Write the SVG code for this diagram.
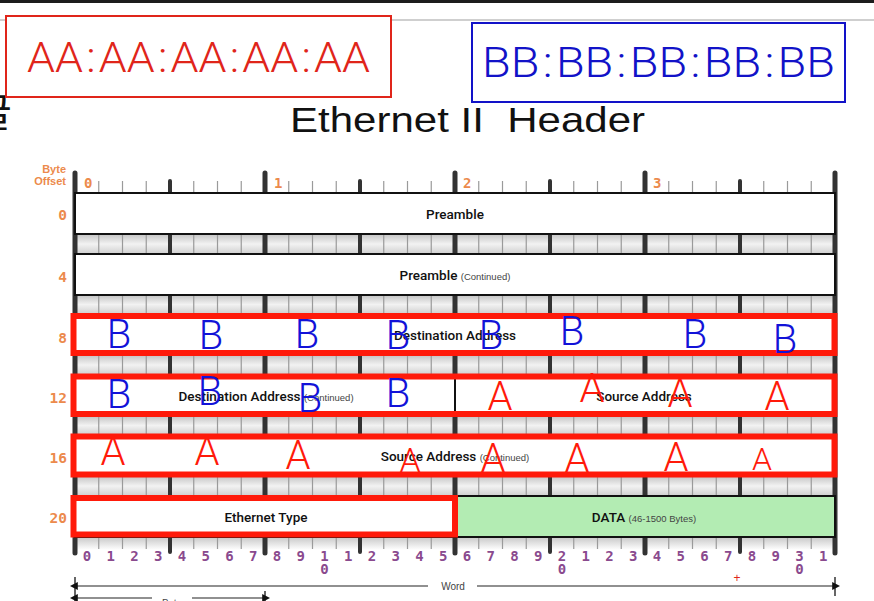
<svg xmlns="http://www.w3.org/2000/svg" width="874" height="601" viewBox="0 0 874 601">
<defs>
<linearGradient id="gap" x1="0" y1="0" x2="0" y2="1">
<stop offset="0" stop-color="#c4c4c4"/>
<stop offset="0.5" stop-color="#f2f2f2"/>
<stop offset="1" stop-color="#cfcfcf"/>
</linearGradient>
<linearGradient id="gapEnd" x1="0" y1="0" x2="0" y2="1">
<stop offset="0" stop-color="#c8c8c8"/>
<stop offset="1" stop-color="#ffffff"/>
</linearGradient>
<marker id="arrL" viewBox="0 0 10 10" refX="1" refY="5" markerWidth="8" markerHeight="8" orient="auto-start-reverse" markerUnits="userSpaceOnUse">
<path d="M0,0 L10,5 L0,10 z" fill="#111"/>
</marker>
<style>
.lbl{font-family:"Liberation Sans",Arial,sans-serif;}
.row{fill:#fff;stroke:#111;stroke-width:2;}
.rt{font-family:Roboto,"Liberation Sans",sans-serif;font-weight:500;font-size:13.5px;fill:#111;text-anchor:middle;}
.sm{font-family:"Liberation Sans",sans-serif;font-weight:400;font-size:9.5px;fill:#444;}
.off{font-family:"DejaVu Sans Mono","Liberation Mono",monospace;font-size:14.5px;font-weight:600;fill:#ec8a4c;text-anchor:end;}
.byn{font-family:"DejaVu Sans Mono","Liberation Mono",monospace;font-size:14px;font-weight:600;fill:#ec8a4c;}
.bit{font-family:"DejaVu Sans Mono","Liberation Mono",monospace;font-size:14px;font-weight:600;fill:#8a4a8e;text-anchor:middle;}
.thin{stroke:#9a9a9a;stroke-width:1.2;fill:none;}
.nib{stroke:#333;stroke-width:4;stroke-linecap:round;fill:none;}
.byt{stroke:#333;stroke-width:5;stroke-linecap:round;fill:none;}
.redov{fill:none;stroke:#ff1a0a;stroke-width:6;}
.B{font-family:Roboto,"Liberation Sans",sans-serif;font-weight:300;font-size:40px;fill:#1212d8;text-anchor:middle;}
.A{font-family:Roboto,"Liberation Sans",sans-serif;font-weight:300;font-size:40px;fill:#ff1a0a;text-anchor:middle;}
</style>
</defs>
<rect width="874" height="601" fill="#fff"/>
<rect x="0" y="0" width="874" height="3" fill="#1c1c1c"/>
<line x1="0" y1="20" x2="874" y2="20" stroke="#cfcfcf" stroke-width="2"/>

<text x="-25" y="127" font-family="'Noto Sans CJK KR',sans-serif" font-size="40" fill="#111">글</text>

<g id="macA">
<rect x="6" y="16" width="385" height="81" fill="#fff" stroke="#e0251a" stroke-width="2"/>
<text x="27" y="72" font-size="42" fill="#e0251a" textLength="343" lengthAdjust="spacingAndGlyphs" font-family="Roboto,'Liberation Sans',sans-serif" font-weight="300"><tspan>AA</tspan><tspan dx="3">:</tspan><tspan dx="3">AA</tspan><tspan dx="3">:</tspan><tspan dx="3">AA</tspan><tspan dx="3">:</tspan><tspan dx="3">AA</tspan><tspan dx="3">:</tspan><tspan dx="3">AA</tspan></text>
</g>
<g id="macB">
<rect x="472" y="23" width="373" height="79" fill="#fff" stroke="#1212c8" stroke-width="2"/>
<text x="482" y="77" font-size="42" fill="#1212c8" textLength="353" lengthAdjust="spacingAndGlyphs" font-family="Roboto,'Liberation Sans',sans-serif" font-weight="300"><tspan>BB</tspan><tspan dx="3">:</tspan><tspan dx="3">BB</tspan><tspan dx="3">:</tspan><tspan dx="3">BB</tspan><tspan dx="3">:</tspan><tspan dx="3">BB</tspan><tspan dx="3">:</tspan><tspan dx="3">BB</tspan></text>
</g>

<text id="title" x="290" y="132" class="lbl" font-size="35" fill="#111" textLength="355" lengthAdjust="spacingAndGlyphs" xml:space="preserve">Ethernet II  Header</text>

<g id="byteOffsetLabel" class="lbl" font-size="11" font-weight="700" fill="#ec8a4c" text-anchor="end">
<text x="66" y="173">Byte</text>
<text x="66" y="185">Offset</text>
</g>

<g id="bands">
<rect x="75" y="234" width="760" height="20" fill="url(#gap)"/>
<rect x="75" y="295" width="760" height="19" fill="url(#gap)"/>
<rect x="75" y="355" width="760" height="20" fill="url(#gap)"/>
<rect x="75" y="416" width="760" height="19" fill="url(#gap)"/>
<rect x="75" y="476" width="760" height="20" fill="url(#gap)"/>
<rect x="75" y="537" width="760" height="13" fill="url(#gapEnd)"/>
</g>

<g id="ticks">
<path class="thin" d="M98.75,181V549 M122.5,181V549 M146.25,181V549 M193.75,181V549 M217.5,181V549 M241.25,181V549 M288.75,181V549 M312.5,181V549 M336.25,181V549 M383.75,181V549 M407.5,181V549 M431.25,181V549 M478.75,181V549 M502.5,181V549 M526.25,181V549 M573.75,181V549 M597.5,181V549 M621.25,181V549 M668.75,181V549 M692.5,181V549 M716.25,181V549 M763.75,181V549 M787.5,181V549 M811.25,181V549"/>
<path class="nib" d="M170,181V552 M360,181V552 M550,181V552 M740,181V552"/>
<path class="byt" d="M75,173V553 M265,173V553 M455,173V553 M645,173V553 M835,173V553"/>
</g>

<g id="byteNumbers" class="byn">
<text x="84" y="188">0</text>
<text x="274" y="188">1</text>
<text x="463" y="188">2</text>
<text x="653" y="188">3</text>
</g>

<g id="rowOffsets" class="off">
<text x="67" y="220">0</text>
<text x="67" y="282">4</text>
<text x="67" y="343">8</text>
<text x="67" y="403">12</text>
<text x="67" y="463">16</text>
<text x="67" y="523">20</text>
</g>

<g id="row0">
<rect class="row" x="75" y="193" width="760" height="41"/>
<text class="rt" x="455" y="219">Preamble</text>
</g>
<g id="row4">
<rect class="row" x="75" y="254" width="760" height="41"/>
<text class="rt" x="455" y="280">Preamble <tspan class="sm">(Continued)</tspan></text>
</g>
<g id="row8">
<rect class="row" x="75" y="314" width="760" height="41"/>
<text class="rt" x="455" y="340">Destination Address</text>
</g>
<g id="row12">
<rect class="row" x="75" y="375" width="760" height="41"/>
<line x1="455" y1="375" x2="455" y2="416" stroke="#111" stroke-width="2"/>
<text class="rt" x="266" y="401">Destination Address <tspan class="sm">(Continued)</tspan></text>
<text class="rt" x="644" y="401">Source Address</text>
</g>
<g id="row16">
<rect class="row" x="75" y="435" width="760" height="41"/>
<text class="rt" x="455" y="461">Source Address <tspan class="sm">(Continued)</tspan></text>
</g>
<g id="row20">
<rect class="row" x="75" y="496" width="380" height="41"/>
<text class="rt" x="266" y="522">Ethernet Type</text>
</g>
<g id="data">
<rect x="455" y="496" width="380" height="41" fill="#b3ecb3" stroke="#111" stroke-width="2"/>
<text class="rt" x="644" y="522" font-weight="700" font-size="14.5">DATA <tspan class="sm" font-size="10.5">(46-1500 Bytes)</tspan></text>
</g>

<g id="bitNumbers" class="bit">
<text x="86.9" y="561">0</text><text x="110.6" y="561">1</text><text x="134.4" y="561">2</text><text x="158.1" y="561">3</text>
<text x="181.9" y="561">4</text><text x="205.6" y="561">5</text><text x="229.4" y="561">6</text><text x="253.1" y="561">7</text>
<text x="276.9" y="561">8</text><text x="300.6" y="561">9</text><text x="324.4" y="561">1</text><text x="324.4" y="574">0</text><text x="348.1" y="561">1</text>
<text x="371.9" y="561">2</text><text x="395.6" y="561">3</text><text x="419.4" y="561">4</text><text x="443.1" y="561">5</text>
<text x="466.9" y="561">6</text><text x="490.6" y="561">7</text><text x="514.4" y="561">8</text><text x="538.1" y="561">9</text>
<text x="561.9" y="561">2</text><text x="561.9" y="574">0</text><text x="585.6" y="561">1</text><text x="609.4" y="561">2</text><text x="633.1" y="561">3</text>
<text x="656.9" y="561">4</text><text x="680.6" y="561">5</text><text x="704.4" y="561">6</text><text x="728.1" y="561">7</text>
<text x="751.9" y="561">8</text><text x="775.6" y="561">9</text><text x="799.4" y="561">3</text><text x="799.4" y="574">0</text><text x="823.1" y="561">1</text>
</g>

<g id="connectors">
<line x1="75" y1="577" x2="75" y2="601" stroke="#333" stroke-width="1.5"/>
<line x1="835" y1="577" x2="835" y2="596" stroke="#333" stroke-width="1.5"/>
<line x1="77" y1="586" x2="428" y2="586" stroke="#222" stroke-width="1.2" marker-start="url(#arrL)"/>
<line x1="477" y1="586" x2="833" y2="586" stroke="#222" stroke-width="1.2" marker-end="url(#arrL)"/>
<line x1="265" y1="591" x2="265" y2="601" stroke="#333" stroke-width="1.5"/>
<line x1="77" y1="598" x2="152" y2="598" stroke="#222" stroke-width="1.2" marker-start="url(#arrL)"/>
<line x1="192" y1="598" x2="263" y2="598" stroke="#222" stroke-width="1.2" marker-end="url(#arrL)"/>
</g>
<text x="453" y="590" class="lbl" font-size="10" fill="#444" text-anchor="middle">Word</text>
<text x="172" y="607" class="lbl" font-size="10" fill="#444" text-anchor="middle">Byte</text>
<text x="737" y="582" class="lbl" font-size="12" fill="#e0251a" text-anchor="middle">+</text>

<g id="redOverlays">
<rect class="redov" x="73.5" y="316" width="761" height="37"/>
<rect class="redov" x="73.5" y="376.5" width="761" height="37.5"/>
<rect class="redov" x="73.5" y="436.5" width="761" height="38"/>
<rect class="redov" x="73.5" y="498" width="381.5" height="36.5" stroke-width="5"/>
</g>

<g id="Bletters" class="B">
<text x="119" y="348">B</text><text x="211" y="349">B</text><text x="307" y="348">B</text><text x="398" y="349">B</text>
<text x="491" y="349">B</text><text x="572" y="345">B</text><text x="695" y="348">B</text><text x="785" y="353">B</text>
<text x="119" y="408">B</text><text x="210" y="405">B</text><text x="310" y="412">B</text><text x="398" y="407">B</text>
</g>
<g id="Aletters" class="A">
<text x="500" y="410">A</text><text x="592" y="402">A</text><text x="680" y="407">A</text><text x="777" y="410">A</text>
<text x="113" y="465">A</text><text x="207" y="465">A</text><text x="298" y="469">A</text><text x="410" y="472" font-size="34">A</text>
<text x="493" y="472">A</text><text x="577" y="472">A</text><text x="676" y="471">A</text><text x="762" y="470" font-size="32">A</text>
</g>
</svg>
